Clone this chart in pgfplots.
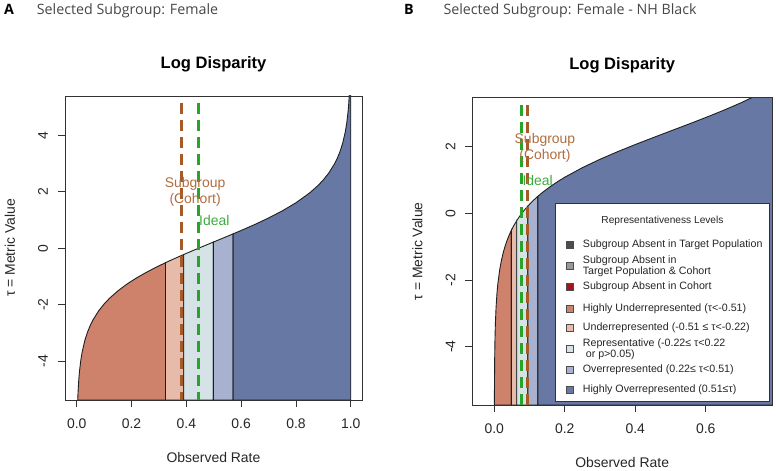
\documentclass[border=0pt]{standalone}
\usepackage{fontspec}
\setmainfont{Liberation Sans}
\newfontfamily\headfont{Open Sans}
\usepackage{pgfplots}
\pgfplotsset{compat=1.18}

\definecolor{cHU}{RGB}{206,129,107}
\definecolor{cU}{RGB}{231,187,170}
\definecolor{cR}{RGB}{213,227,231}
\definecolor{cO}{RGB}{168,177,207}
\definecolor{cHO}{RGB}{104,120,164}
\definecolor{cDG}{RGB}{77,77,77}
\definecolor{cG}{RGB}{153,153,153}
\definecolor{cDR}{RGB}{165,20,30}
\definecolor{cBrown}{RGB}{165,90,40}
\definecolor{cBrownT}{RGB}{176,108,62}
\definecolor{cGreen}{RGB}{40,165,40}
\definecolor{cGreenT}{RGB}{60,170,60}
\definecolor{cFrame}{RGB}{50,50,50}

\pgfplotsset{
  rstyle/.style={
    scale only axis, anchor=south west, axis on top,
    axis line style={cFrame, line width=0.9bp},
    tick align=outside, tick pos=left, major tick length=7bp,
    tick style={cFrame, line width=0.9bp},
    ticklabel style={font=\fontsize{14}{16}\selectfont, text=black!85},
    xticklabel style={anchor=base}, xticklabel shift=21bp,
    yticklabel style={rotate=90, anchor=base}, yticklabel shift=10bp,
    title style={font=\bfseries\fontsize{16.6}{19}\selectfont, at={(axis description cs:0.5,1)}, anchor=base, yshift=22bp},
    xlabel style={font=\fontsize{14}{16}\selectfont, text=black!85, at={(axis description cs:0.5,0)}, anchor=base, yshift=-62bp},
    every axis y label/.style={font=\fontsize{14}{16}\selectfont, text=black!85, at={(axis description cs:0,0.5)}, xshift=-50bp, rotate=90, anchor=base},
    xlabel={Observed Rate}, ylabel={τ = Metric Value},
    title={Log Disparity},
  },
  region/.style={draw=black!88, line width=0.9bp, fill=#1},
  cohort/.style={cBrown, line width=2.6bp, dash pattern=on 11bp off 6bp},
  ideal/.style={cGreen, line width=2.6bp, dash pattern=on 11bp off 6bp},
}

\begin{document}
\begin{tikzpicture}
\path (0bp,0bp) rectangle (776bp,471bp);

% ---------------- Panel A ----------------
\begin{axis}[rstyle, at={(65bp,71bp)}, width=297bp, height=304bp,
  xmin=-0.0427, xmax=1.041, ymin=-5.37, ymax=5.39,
  xtick={0,0.2,0.4,0.6,0.8,1}, xticklabels={0.0,0.2,0.4,0.6,0.8,1.0},
  ytick={-4,-2,0,2,4}, yticklabels={-4,-2,0,2,4}]
\addplot[region=cHU] coordinates {(0.003702,-5.37) (0.005,-5.0684) (0.0075,-4.6604) (0.01,-4.3702) (0.015,-3.9597) (0.02,-3.6669) (0.03,-3.2512) (0.04,-2.9532) (0.05,-2.7195) (0.06,-2.5266) (0.08,-2.2174) (0.10,-1.9723) (0.12,-1.7675) (0.15,-1.5097) (0.18,-1.2914) (0.20,-1.1614) (0.22,-1.0408) (0.25,-0.8737) (0.28,-0.7196) (0.30,-0.6224) (0.32412,-0.51) (0.32412,-5.37)} -- cycle;
\addplot[region=cU] coordinates {(0.32412,-5.37) (0.32412,-0.51) (0.35,-0.3941) (0.3906,-0.22) (0.3906,-5.37)} -- cycle;
\addplot[region=cR] coordinates {(0.3906,-5.37) (0.3906,-0.22) (0.40,-0.1806) (0.444,0) (0.45,0.0242) (0.49878,0.22) (0.49878,-5.37)} -- cycle;
\addplot[region=cO] coordinates {(0.49878,-5.37) (0.49878,0.22) (0.55,0.4256) (0.5708,0.51) (0.5708,-5.37)} -- cycle;
\addplot[region=cHO] coordinates {(0.5708,-5.37) (0.5708,0.51) (0.60,0.6304) (0.65,0.8439) (0.70,1.0722) (0.75,1.3235) (0.80,1.6112) (0.85,1.9595) (0.88,2.2173) (0.90,2.4221) (0.92,2.6672) (0.94,2.9764) (0.95,3.1693) (0.96,3.4030) (0.97,3.7010) (0.98,4.1167) (0.985,4.4095) (0.99,4.8200) (0.9925,5.1102) (0.995,5.5182) (0.997,6.031) (0.999,7.1317) (1,7.1317) (1,-5.37)} -- cycle;
\addplot[cohort] coordinates {(0.383,5.15) (0.383,-5.37)};
\addplot[ideal] coordinates {(0.444,5.15) (0.444,-5.37)};
\node[font=\fontsize{14}{15.7}\selectfont, text=cBrownT, align=center] at (axis cs:0.432,2.0) {Subgroup\\(Cohort)};
\node[font=\fontsize{14}{16}\selectfont, text=cGreenT, anchor=west, inner sep=0.6bp] at (axis cs:0.444,0.97) {Ideal};
\end{axis}

% ---------------- Panel B ----------------
\begin{axis}[rstyle, at={(472.3bp,66bp)}, width=299.7bp, height=307.3bp,
  xmin=-0.0624, xmax=0.788, ymin=-5.75, ymax=3.47,
  xtick={0,0.2,0.4,0.6}, xticklabels={0.0,0.2,0.4,0.6},
  ytick={-4,-2,0,2}, yticklabels={-4,-2,0,2}]
\addplot[region=cHU] coordinates {(0.000269,-5.75) (0.0005,-5.1305) (0.001,-4.4369) (0.0015,-4.0309) (0.002,-3.7427) (0.003,-3.3362) (0.005,-2.8234) (0.0075,-2.4154) (0.01,-2.1252) (0.015,-1.7147) (0.02,-1.4219) (0.025,-1.1937) (0.03,-1.0062) (0.035,-0.8469) (0.04,-0.7082) (0.04833,-0.51) (0.04833,-5.75)} -- cycle;
\addplot[region=cU] coordinates {(0.04833,-5.75) (0.04833,-0.51) (0.055,-0.3740) (0.06357,-0.22) (0.06357,-5.75)} -- cycle;
\addplot[region=cR] coordinates {(0.06357,-5.75) (0.06357,-0.22) (0.07,-0.1168) (0.078,0) (0.085,0.0937) (0.09536,0.22) (0.09536,-5.75)} -- cycle;
\addplot[region=cO] coordinates {(0.09536,-5.75) (0.09536,0.22) (0.11,0.3792) (0.12345,0.51) (0.12345,-5.75)} -- cycle;
\addplot[region=cHO] coordinates {(0.12345,-5.75) (0.12345,0.51) (0.13,0.5689) (0.14,0.6546) (0.16,0.8117) (0.18,0.9536) (0.20,1.0836) (0.25,1.3713) (0.30,1.6226) (0.35,1.8509) (0.40,2.0644) (0.45,2.2692) (0.50,2.4699) (0.55,2.6706) (0.60,2.8754) (0.65,3.0889) (0.70,3.3172) (0.75,3.5685) (0.80,3.8562) (0.85,4.2045) (0.85,-5.75)} -- cycle;
\addplot[cohort] coordinates {(0.0945,3.25) (0.0945,-5.75)};
\addplot[ideal] coordinates {(0.078,3.25) (0.078,-5.75)};
\node[font=\fontsize{14}{16.4}\selectfont, text=cBrownT, align=center] at (axis cs:0.1437,1.97) {Subgroup\\(Cohort)};
\node[font=\fontsize{14}{16}\selectfont, text=cGreenT, anchor=west, inner sep=0.6bp] at (axis cs:0.078,1.0) {Ideal};
\end{axis}

% ---------------- Legend (panel B) ----------------
\begin{scope}[x=1bp,y=1bp]
\draw[fill=white, draw=black!80, line width=1bp] (555.7,69.3) rectangle (769.3,267);
\node[font=\fontsize{10.2}{12}\selectfont, text=black!85] at (662.5,250) {Representativeness Levels};
\begin{scope}[every node/.style={font=\fontsize{10.7}{12}\selectfont, text=black!85, anchor=west, inner sep=0}]
\draw[fill=cDG, draw=black!70, line width=0.5bp] (565.8,222.5) rectangle ++(7,7);
\node at (582.7,226) {Subgroup Absent in Target Population};
\draw[fill=cG, draw=black!70, line width=0.5bp] (565.8,201.5) rectangle ++(7,7);
\node at (582.7,210) {Subgroup Absent in};
\node at (582.7,199.3) {Target Population \& Cohort};
\draw[fill=cDR, draw=black!70, line width=0.5bp] (565.8,181) rectangle ++(7,7);
\node at (582.7,184.5) {Subgroup Absent in Cohort};
\draw[fill=cHU, draw=black!70, line width=0.5bp] (565.8,159.2) rectangle ++(7,7);
\node at (582.7,162.7) {Highly Underrepresented (τ<-0.51)};
\draw[fill=cU, draw=black!70, line width=0.5bp] (565.8,139.8) rectangle ++(7,7);
\node at (582.7,143.3) {Underrepresented (-0.51 ≤ τ<-0.22)};
\draw[fill=cR, draw=black!70, line width=0.5bp] (565.8,118.5) rectangle ++(7,7);
\node at (582.7,127.7) {Representative (-0.22≤ τ<0.22};
\node at (582.7,116) {\ or p>0.05)};
\draw[fill=cO, draw=black!70, line width=0.5bp] (565.8,98.2) rectangle ++(7,7);
\node at (582.7,101.7) {Overrepresented (0.22≤ τ<0.51)};
\draw[fill=cHO, draw=black!70, line width=0.5bp] (565.8,78.2) rectangle ++(7,7);
\node at (582.7,81.7) {Highly Overrepresented (0.51≤τ)};
\end{scope}

% ---------------- Panel headers ----------------
\node[font=\headfont\bfseries\fontsize{14.3}{17}\selectfont, anchor=base, inner sep=0] at (9,456) {A};
\node[font=\headfont\fontsize{14.3}{17}\selectfont, text=black!72, anchor=base west, inner sep=0] at (36.7,456) {Selected Subgroup: Female};
\node[font=\headfont\bfseries\fontsize{14.3}{17}\selectfont, anchor=base, inner sep=0] at (409,456) {B};
\node[font=\headfont\fontsize{14.3}{17}\selectfont, text=black!72, anchor=base west, inner sep=0] at (443.3,456) {Selected Subgroup: Female - NH Black};
\end{scope}
\end{tikzpicture}
\end{document}
